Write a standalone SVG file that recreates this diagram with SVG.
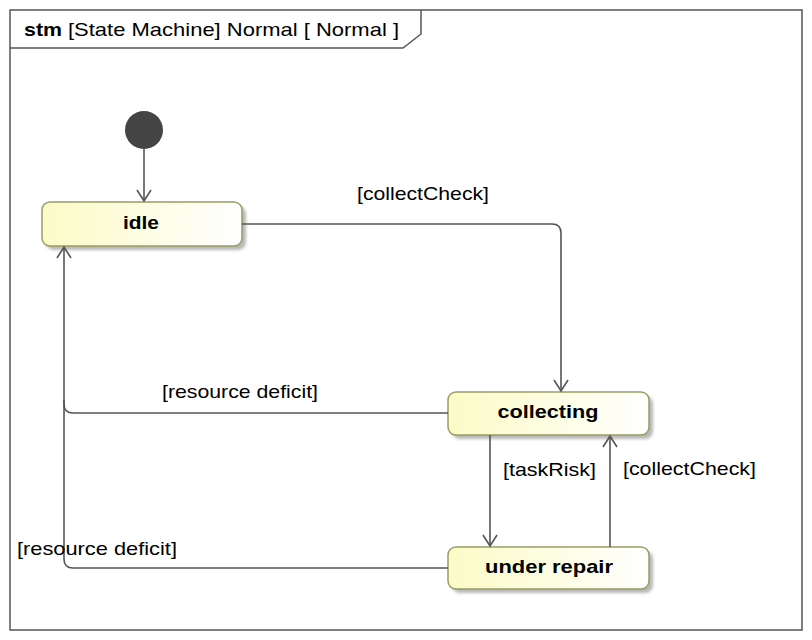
<svg xmlns="http://www.w3.org/2000/svg" width="812" height="640" viewBox="0 0 812 640">
<style>
.lbl{font-family:"Liberation Sans",Arial,sans-serif;font-size:19px;fill:#000}
.st{font-family:"Liberation Sans",Arial,sans-serif;font-size:19px;font-weight:bold;fill:#000}
.box{fill:url(#g);stroke:#9c9c66;stroke-width:1.5}
.shadow{fill:#b8b8b8;filter:url(#blur)}
.conn{fill:none;stroke:#555;stroke-width:1.6}
</style>
<defs>
<linearGradient id="g" x1="0" y1="0" x2="1" y2="0">
<stop offset="0" stop-color="#fbfbc6"/>
<stop offset="1" stop-color="#ffffff"/>
</linearGradient>
<filter id="blur" x="-10%" y="-20%" width="120%" height="140%"><feGaussianBlur stdDeviation="1.5"/></filter>
<marker id="arr" markerUnits="userSpaceOnUse" markerWidth="16" markerHeight="18" refX="12" refY="8" orient="auto" viewBox="0 0 16 16">
<path d="M1,1 L12,8 L1,15" fill="none" stroke="#555" stroke-width="1.6"/>
</marker>
</defs>
<rect width="812" height="640" fill="#fff"/>
<g id="frame">
<rect x="10" y="10" width="792" height="620" fill="none" stroke="#555" stroke-width="1.5"/>
<path d="M10,48 H403 L421,34 V10" fill="none" stroke="#555" stroke-width="1.5"/>
<text x="24" y="36" class="st" textLength="38" lengthAdjust="spacingAndGlyphs">stm</text>
<text x="68" y="36" class="lbl" textLength="331" lengthAdjust="spacingAndGlyphs">[State Machine] Normal [ Normal ]</text>
</g>
<g id="initial">
<circle cx="144" cy="130" r="19" fill="#444"/>
</g>
<g id="idle">
<rect x="46" y="206" width="200" height="44" rx="8" class="shadow"/>
<rect x="42" y="202" width="200" height="44" rx="8" class="box"/>
<text x="141" y="229" class="st" text-anchor="middle" textLength="36" lengthAdjust="spacingAndGlyphs">idle</text>
</g>
<g id="collecting">
<rect x="452" y="396" width="201" height="43" rx="8" class="shadow"/>
<rect x="448" y="392" width="201" height="43" rx="8" class="box"/>
<text x="548" y="418" class="st" text-anchor="middle" textLength="101" lengthAdjust="spacingAndGlyphs">collecting</text>
</g>
<g id="under_repair">
<rect x="452" y="551" width="201" height="42" rx="8" class="shadow"/>
<rect x="448" y="547" width="201" height="42" rx="8" class="box"/>
<text x="549" y="573" class="st" text-anchor="middle" textLength="128" lengthAdjust="spacingAndGlyphs">under repair</text>
</g>
<g id="connectors">
<path class="conn" d="M144,149 V201" marker-end="url(#arr)"/>
<path class="conn" d="M242,224 H552 Q561,224 561,233 V391" marker-end="url(#arr)"/>
<path class="conn" d="M448,413 H73 Q64,413 64,404 V247" marker-end="url(#arr)"/>
<path class="conn" d="M448,568 H73 Q64,568 64,559 V400"/>
<path class="conn" d="M490,435 V546" marker-end="url(#arr)"/>
<path class="conn" d="M610,547 V436" marker-end="url(#arr)"/>
</g>
<g id="labels">
<text x="357" y="200" class="lbl" textLength="132" lengthAdjust="spacingAndGlyphs">[collectCheck]</text>
<text x="162" y="398" class="lbl" textLength="156" lengthAdjust="spacingAndGlyphs">[resource deficit]</text>
<text x="17" y="555" class="lbl" textLength="160" lengthAdjust="spacingAndGlyphs">[resource deficit]</text>
<text x="503" y="476" class="lbl" textLength="93" lengthAdjust="spacingAndGlyphs">[taskRisk]</text>
<text x="623" y="475" class="lbl" textLength="133" lengthAdjust="spacingAndGlyphs">[collectCheck]</text>
</g>
</svg>
